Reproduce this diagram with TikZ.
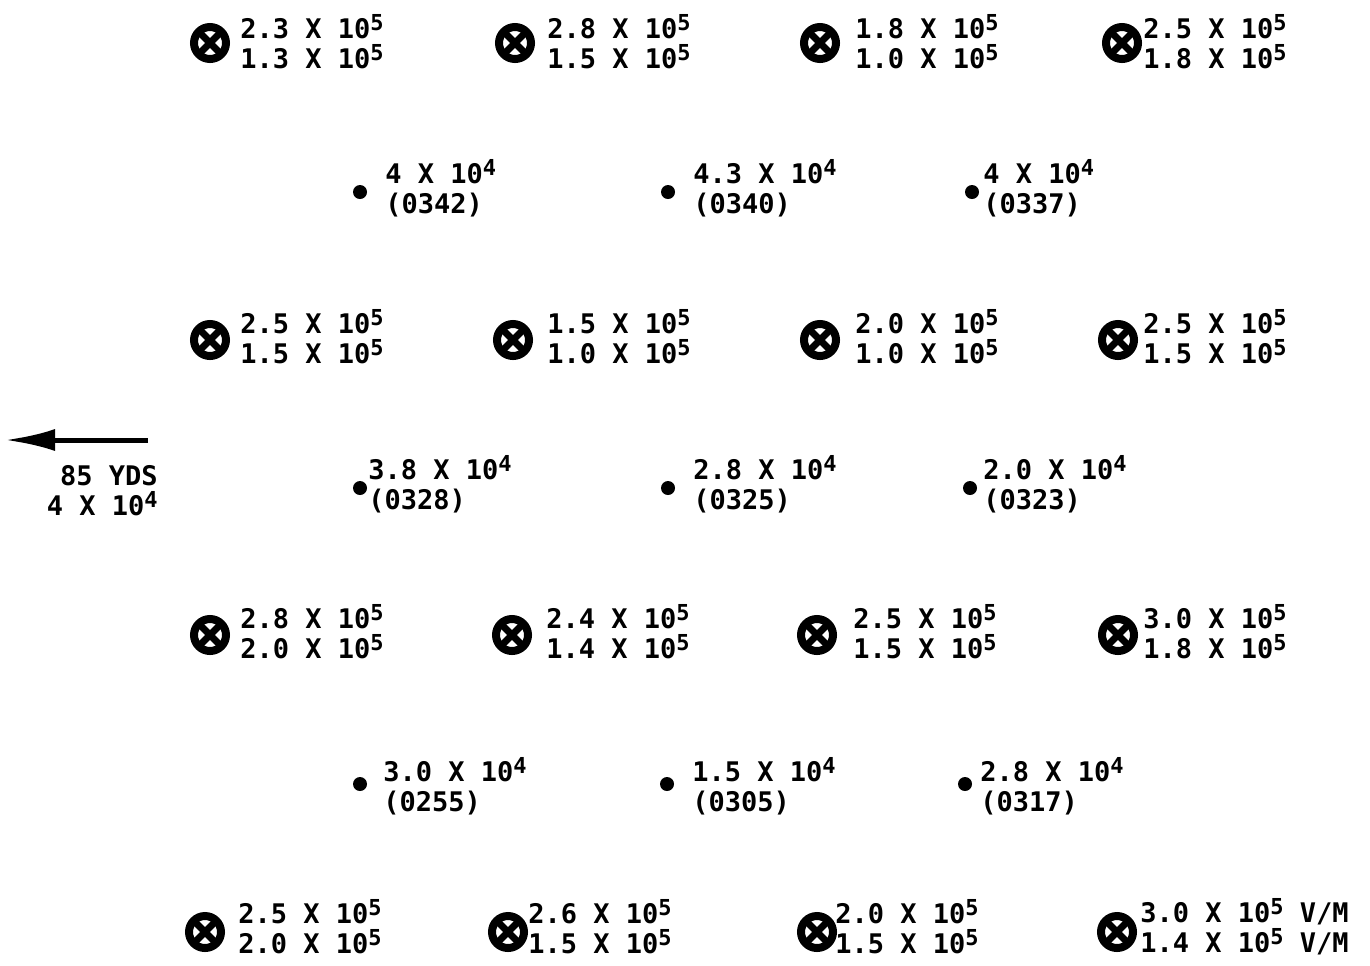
\documentclass[tikz,border=0pt]{standalone}
\usepackage{fontspec}
\setmainfont{DejaVu Sans Mono}
\usepackage{tikz}
\usetikzlibrary{arrows.meta, positioning}

\newcommand{\sci}[2]{#1 X 10\raisebox{0.55ex}{\fontsize{11}{11}\selectfont #2}}

\begin{document}
\begin{tikzpicture}[x=0.5pt, y=-0.5pt,
    font=\fontsize{13.5}{15}\selectfont\bfseries,
    xsym/.style={circle, draw, line width=4pt, minimum size=16pt, inner sep=0pt,
        path picture={\draw[line width=3.5pt] (path picture bounding box.north west) -- (path picture bounding box.south east)
            (path picture bounding box.north east) -- (path picture bounding box.south west);}},
    dotsym/.style={circle, fill, minimum size=7pt, inner sep=0pt},
    lbl/.style={anchor=west, align=left, inner sep=0pt}]
    \useasboundingbox (0,0) rectangle (1370,965);

    % crossed circles with two field values
    \foreach \n/\x/\y/\tx/\ty/\a/\b in {
        1/210/43/240/42/2.3/1.3, 2/515/43/547/42/2.8/1.5, 3/820/43/855/42/1.8/1.0, 4/1122/43/1143/42/2.5/1.8,
        5/210/340/240/337/2.5/1.5, 6/513/340/547/337/1.5/1.0, 7/820/340/855/337/2.0/1.0, 8/1118/340/1143/337/2.5/1.5,
        9/210/635/240/632/2.8/2.0, 10/512/635/546/632/2.4/1.4, 11/817/635/853/632/2.5/1.5, 12/1118/635/1143/632/3.0/1.8,
        13/205/932/238/927/2.5/2.0, 14/508/932/528/927/2.6/1.5, 15/817/932/835/927/2.0/1.5} {
        \node[xsym] (x\n) at (\x,\y) {};
        \node[lbl] (xt\n) at (\tx,\ty) {\sci{\a}{5}\\\sci{\b}{5}};
    }
    \node[xsym] (x16) at (1117,932) {};
    \node[lbl] (xt16) at (1140,927) {\sci{3.0}{5} V/M\\\sci{1.4}{5} V/M};

    % dots with value and time
    \foreach \n/\x/\y/\tx/\ty/\v/\c in {
        1/360/192/385/188/4/0342, 2/668/192/693/188/4.3/0340, 3/972/192/983/188/4/0337,
        4/360/488/368/484/3.8/0328, 5/668/488/693/484/2.8/0325, 6/970/488/983/484/2.0/0323,
        7/360/784/383/786/3.0/0255, 8/667/784/692/786/1.5/0305, 9/965/784/980/786/2.8/0317} {
        \node[dotsym] (d\n) at (\x,\y) {};
        \node[lbl] (dt\n) at (\tx,\ty) {\sci{\v}{4}\\(\c)};
    }

    % direction arrow
    \coordinate (tail) at (148,440);
    \coordinate (head) at (5,440);
    \draw[line width=2.5pt, -{Latex[length=25pt, width=11pt]}] (tail) -- (head);
    \node[anchor=east, align=right, inner sep=0pt] (dist) at (158,491) {85 YDS\\\sci{4}{4}};
\end{tikzpicture}
\end{document}
